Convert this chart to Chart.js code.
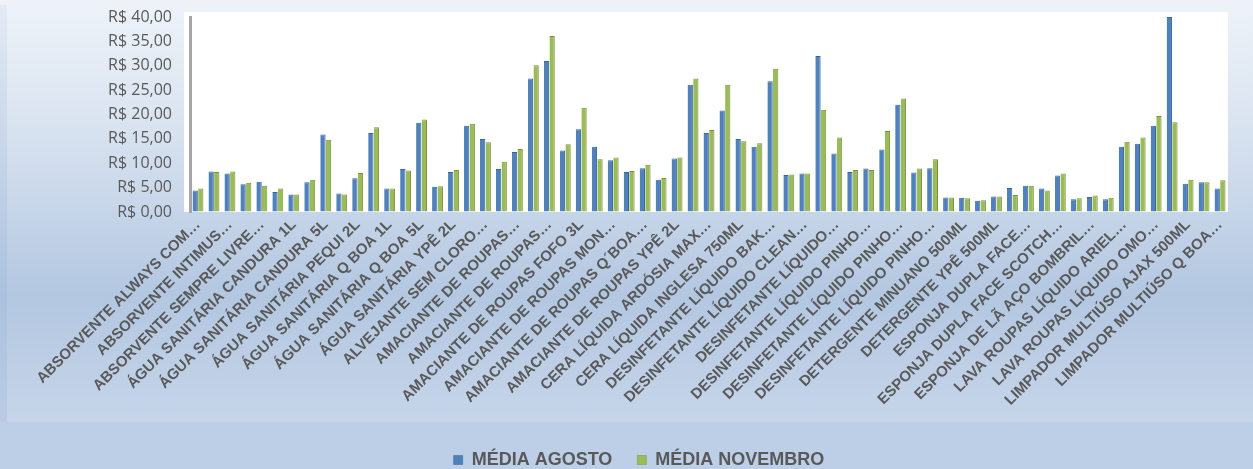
<!DOCTYPE html>
<html>
<head>
<meta charset="utf-8">
<script src="https://cdn.jsdelivr.net/npm/chart.js@4.4.1/dist/chart.umd.min.js"></script>
<style>
  html, body { margin: 0; padding: 0; }
  body { width: 1253px; height: 469px; overflow: hidden; }
  #wrap { width: 1253px; height: 469px; position: relative; }
</style>
</head>
<body>
<div id="wrap"><canvas id="precoChart"></canvas></div>
<script>
// Products (only every other name is printed on the axis; the others are unreadable in the source)
const categories = [
    'ABSORVENTE ALWAYS COM…', '', 'ABSORVENTE INTIMUS…', '', 'ABSORVENTE SEMPRE LIVRE…', '',
    'ÁGUA SANITÁRIA CANDURA 1L', '', 'ÁGUA SANITÁRIA CANDURA 5L', '', 'ÁGUA SANITÁRIA PEQUI 2L', '',
    'ÁGUA SANITÁRIA Q BOA 1L', '', 'ÁGUA SANITÁRIA Q BOA 5L', '', 'ÁGUA SANITÁRIA YPÊ 2L', '',
    'ALVEJANTE SEM CLORO…', '', 'AMACIANTE DE ROUPAS…', '', 'AMACIANTE DE ROUPAS…', '',
    'AMACIANTE DE ROUPAS FOFO 3L', '', 'AMACIANTE DE ROUPAS MON…', '', 'AMACIANTE DE ROUPAS Q´BOA…', '',
    'AMACIANTE DE ROUPAS YPÊ 2L', '', 'CERA LÍQUIDA ARDÓSIA MAX…', '', 'CERA LÍQUIDA INGLESA 750ML', '',
    'DESINFETANTE LÍQUIDO BAK…', '', 'DESINFETANTE LÍQUIDO CLEAN…', '', 'DESINFETANTE LÍQUIDO…', '',
    'DESINFETANTE LÍQUIDO PINHO…', '', 'DESINFETANTE LÍQUIDO PINHO…', '', 'DESINFETANTE LÍQUIDO PINHO…', '',
    'DETERGENTE MINUANO 500ML', '', 'DETERGENTE YPÊ 500ML', '', 'ESPONJA DUPLA FACE…', '',
    'ESPONJA DUPLA FACE SCOTCH…', '', 'ESPONJA DE LÃ AÇO BOMBRIL…', '', 'LAVA ROUPAS LÍQUIDO ARIEL…', '',
    'LAVA ROUPAS LÍQUIDO OMO…', '', 'LIMPADOR MULTIÚSO AJAX 500ML', '', 'LIMPADOR MULTIÚSO Q BOA…'
];

// Average prices (R$)
const mediaAgosto = [
    4.4, 8.3, 7.9, 5.7, 6.2, 4.1, 3.6, 6.1, 15.9, 3.8,
    6.9, 16.2, 4.8, 8.8, 18.3, 5.2, 8.2, 17.7, 15.0, 8.8,
    12.3, 27.4, 31.0, 12.6, 17.0, 13.4, 10.6, 8.2, 9.0, 6.6,
    11.0, 26.1, 16.2, 20.8, 15.0, 13.4, 26.8, 7.6, 7.9, 32.0,
    12.0, 8.2, 8.9, 12.8, 22.0, 8.1, 9.0, 3.0, 2.9, 2.3,
    3.2, 4.9, 5.4, 4.8, 7.5, 2.6, 3.1, 2.6, 13.4, 14.0,
    17.7, 40.0, 5.8, 6.1, 4.8
];
const mediaNovembro = [
    4.8, 8.2, 8.3, 6.0, 5.4, 4.8, 3.6, 6.6, 14.8, 3.6,
    8.0, 17.4, 4.8, 8.5, 19.0, 5.3, 8.6, 18.1, 14.3, 10.3,
    12.9, 30.1, 36.1, 13.9, 21.4, 10.8, 11.2, 8.4, 9.7, 7.0,
    11.2, 27.4, 16.8, 26.1, 14.5, 14.1, 29.4, 7.7, 7.9, 21.0,
    15.3, 8.6, 8.6, 16.6, 23.3, 8.9, 10.8, 3.0, 2.8, 2.4,
    3.2, 3.5, 5.4, 4.4, 7.9, 2.8, 3.4, 2.9, 14.4, 15.3,
    19.7, 18.4, 6.6, 6.1, 6.5
];

const seriesNames = ['MÉDIA AGOSTO', 'MÉDIA NOVEMBRO'];
const yTicks = [0, 5, 10, 15, 20, 25, 30, 35, 40];

// Excel-like gradient background and white plot wall
const backdrop = {
    id: 'backdrop',
    beforeDraw(chart) {
        const { ctx, width, height, chartArea } = chart;
        ctx.save();
        const g = ctx.createLinearGradient(0, 0, 0, 422);
        g.addColorStop(0, '#eef3f9');
        g.addColorStop(0.3, '#d9e3f0');
        g.addColorStop(0.7, '#b3c7e1');
        g.addColorStop(1, '#c6d5e9');
        const side = ctx.createLinearGradient(0, 0, 0, 422);
        side.addColorStop(0, '#e4ebf4');
        side.addColorStop(0.7, '#abc1dd');
        side.addColorStop(1, '#bacce4');
        ctx.fillStyle = '#eef2f8';
        ctx.fillRect(0, 0, width, height);
        ctx.fillStyle = g;
        ctx.fillRect(7, 5, width - 7, 417);
        ctx.fillStyle = side;
        ctx.fillRect(0, 5, 7, 417);
        ctx.fillStyle = '#bccfe6';
        ctx.fillRect(0, 422, width, height - 422);
        ctx.fillStyle = '#ffffff';
        ctx.fillRect(chartArea.left - 6, chartArea.top - 5, chartArea.right - chartArea.left + 6, chartArea.bottom - chartArea.top + 5);
        ctx.restore();
    }
};

const ctx = document.getElementById('precoChart').getContext('2d');
new Chart(ctx, {
    type: 'bar',
    data: {
        labels: categories,
        datasets: [{
            label: seriesNames[0],
            data: mediaAgosto,
            backgroundColor: '#4f81bd',
            borderColor: '#3a6496',
            borderWidth: { right: 1, top: 1 },
            borderSkipped: 'bottom',
            categoryPercentage: 0.7,
            barPercentage: 0.95
        }, {
            label: seriesNames[1],
            data: mediaNovembro,
            backgroundColor: '#9bbb59',
            borderColor: '#76923c',
            borderWidth: { right: 1, top: 1 },
            borderSkipped: 'bottom',
            categoryPercentage: 0.7,
            barPercentage: 0.95
        }]
    },
    options: {
        responsive: true,
        maintainAspectRatio: false,
        animation: false,
        layout: { padding: { left: 50, right: 25, top: 17, bottom: -10 } },
        scales: {
            x: {
                grid: { display: false, drawTicks: false },
                border: { display: true, color: '#c9d6e6', width: 1 },
                ticks: {
                    autoSkip: false,
                    minRotation: 45,
                    maxRotation: 45,
                    padding: 4,
                    color: '#595959',
                    font: { family: 'Liberation Sans', size: 15, weight: 'bold' }
                },
                afterFit(scale) { scale.height = 214; }
            },
            y: {
                min: 0,
                max: 40,
                afterBuildTicks(scale) { scale.ticks = yTicks.map(v => ({ value: v })); },
                grid: {
                    display: true,
                    drawOnChartArea: false,
                    drawTicks: true,
                    tickLength: 14,
                    tickColor: 'rgba(0,0,0,0)',
                    color: 'rgba(0,0,0,0)'
                },
                border: { display: true, color: '#a6a6a6', width: 3 },
                ticks: {
                    autoSkip: false,
                    padding: 4,
                    color: '#595959',
                    font: { family: 'Open Sans', size: 16 },
                    callback: function(value) {
                        return 'R$ ' + value.toFixed(2).replace('.', ',');
                    }
                },
                afterFit(scale) { scale.width = 140; }
            }
        },
        plugins: {
            legend: {
                position: 'bottom',
                labels: {
                    boxWidth: 9,
                    boxHeight: 9,
                    padding: 25,
                    color: '#595959',
                    font: { family: 'Liberation Sans', size: 18, weight: 'bold' }
                }
            },
            tooltip: { enabled: true }
        }
    },
    plugins: [backdrop]
});
</script>
</body>
</html>
